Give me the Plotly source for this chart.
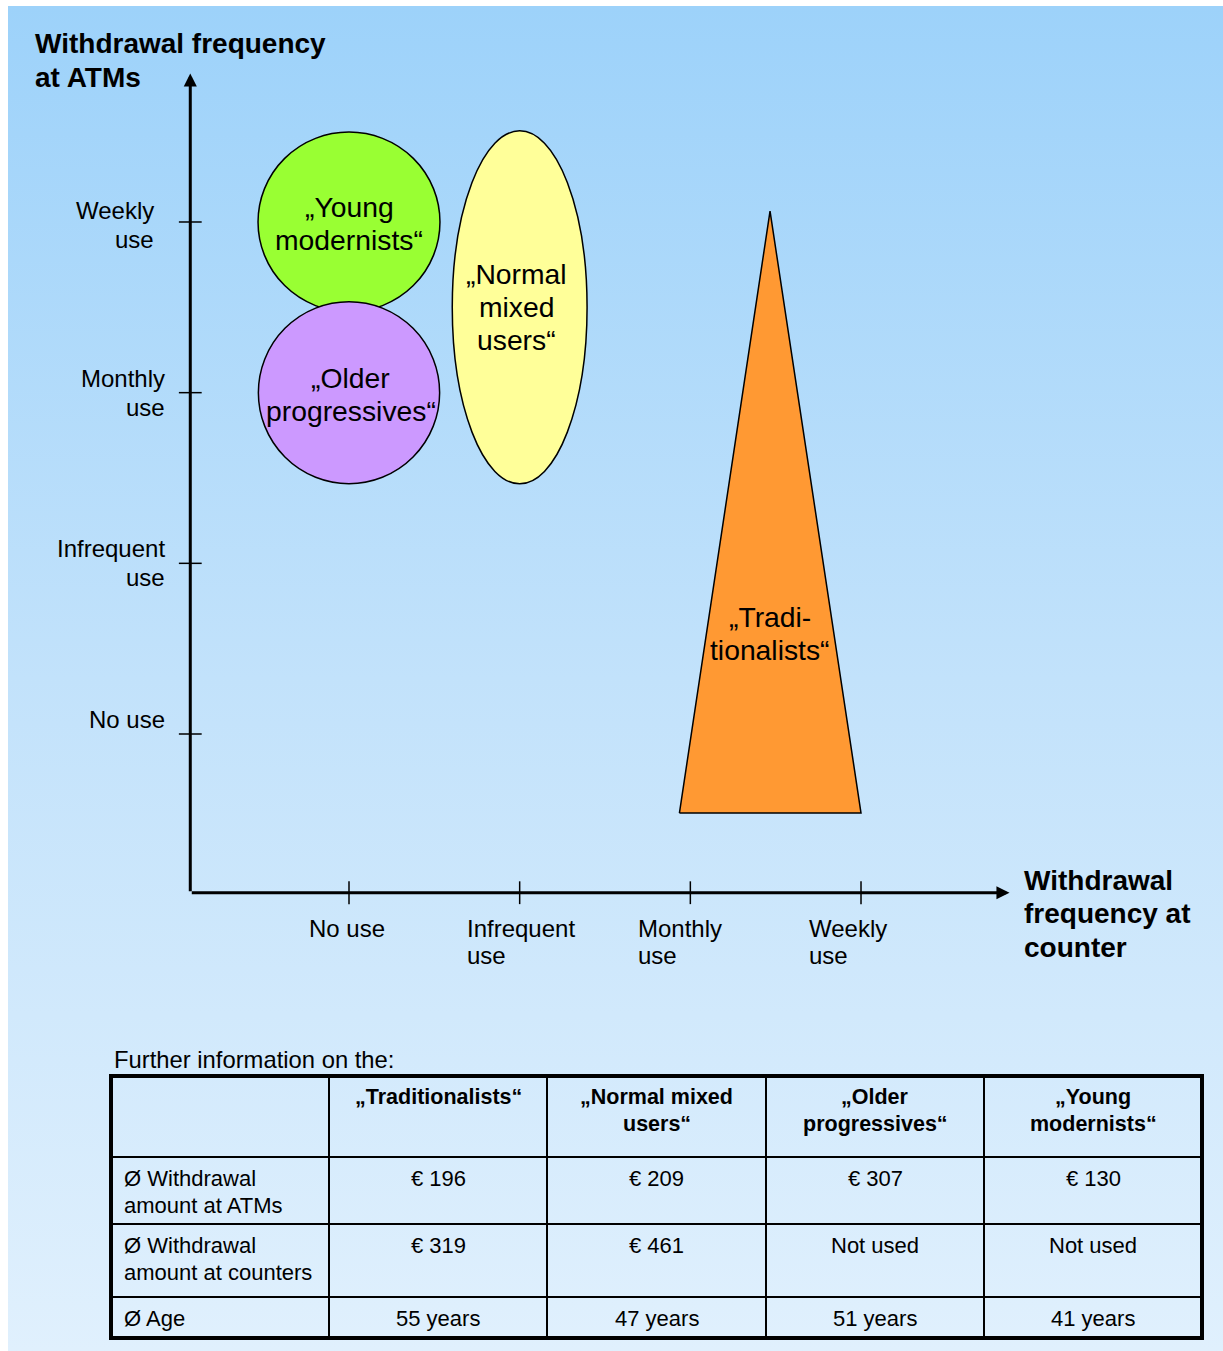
import plotly.graph_objects as go

# ---- data -------------------------------------------------------------
freq_levels = ["No use", "Infrequent use", "Monthly use", "Weekly use"]
x_tick_text = [["No use"], ["Infrequent", "use"], ["Monthly", "use"], ["Weekly", "use"]]
y_tick_text = [["No use"], ["Infrequent", "use"], ["Monthly", "use"], ["Weekly", "use"]]
freq_values = [1, 2, 3, 4]

# customer segments drawn as ellipses: centre (counter, ATM) and half-extent
seg_names = [["„Young", "modernists“"], ["„Older", "progressives“"], ["„Normal", "mixed", "users“"]]
seg_counter = [1.0, 1.0, 2.0]
seg_atm = [4.0, 3.0, 3.5]
seg_half_w = [0.533, 0.531, 0.395]
seg_half_h = [0.527, 0.533, 1.034]
seg_label_counter = [1.0, 1.01, 1.98]
seg_label_atm = [3.99, 2.99, 3.5]
seg_colors = ["#99ff33", "#cc99ff", "#ffff99"]

# traditionalists: wide spread on ATM use, counter use monthly to weekly
trad_name = ["„Tradi-", "tionalists“"]
trad_counter = [2.936, 3.467, 4.0, 2.936]
trad_atm = [0.537, 4.064, 0.537, 0.537]
trad_label = (3.467, 1.59)
trad_color = "#ff9933"

# table
table_title = "Further information on the:"
table_cols = [["„Traditionalists“"], ["„Normal mixed", "users“"], ["„Older", "progressives“"], ["„Young", "modernists“"]]
table_rows = [["Ø Withdrawal", "amount at ATMs"], ["Ø Withdrawal", "amount at counters"], ["Ø Age"]]
atm_amount = [196, 209, 307, 130]
counter_amount = [319, 461, None, None]
avg_age = [55, 47, 51, 41]

# ---- page geometry ----------------------------------------------------
W, H = 1223, 1351
UNIT = 170.67            # pixels per frequency step
X1_PX, Y1_PX = 349, 734  # pixel position of level 1 on each axis
LEFT_PAD, TOP_PAD = 8, 6


def dx(px):
    return 1 + (px - X1_PX) / UNIT


def dy(py):
    return 1 - (py - Y1_PX) / UNIT


def px_x(px):
    return px / W


def px_y(py):
    return 1 - py / H


FONT = "Liberation Sans, Arial, sans-serif"
BLACK = "#000000"

fig = go.Figure()

# gradient background panel
bx = [dx(LEFT_PAD), dx(W), dx(W), dx(LEFT_PAD), dx(LEFT_PAD)]
by = [dy(H), dy(H), dy(TOP_PAD), dy(TOP_PAD), dy(H)]
fig.add_trace(go.Scatter(
    x=bx, y=by, mode="lines", line=dict(width=0), fill="toself",
    fillgradient=dict(type="vertical", colorscale=[[0, "#e0f0fd"], [0.5, "#c2e2fb"], [1, "#9dd2fa"]]),
    hoverinfo="skip", showlegend=False,
))

# traditionalists triangle
fig.add_trace(go.Scatter(
    x=trad_counter, y=trad_atm, mode="lines", fill="toself",
    fillcolor=trad_color, line=dict(color=BLACK, width=1.5),
    hoverinfo="skip", showlegend=False,
))

# tick marks crossing both axes
origin = 0.07
axis_end = 4.87
fig.add_trace(go.Scatter(
    x=freq_values, y=[origin] * 4, mode="markers",
    marker=dict(symbol="line-ns", size=16.3, line=dict(color=BLACK, width=1.5)),
    hoverinfo="skip", showlegend=False,
))
fig.add_trace(go.Scatter(
    x=[origin] * 4, y=freq_values, mode="markers",
    marker=dict(symbol="line-ew", size=16.3, line=dict(color=BLACK, width=1.5)),
    hoverinfo="skip", showlegend=False,
))

shapes = []
for cx, cy, hw, hh, col in zip(seg_counter, seg_atm, seg_half_w, seg_half_h, seg_colors):
    shapes.append(dict(
        type="circle", xref="x", yref="y",
        x0=cx - hw, x1=cx + hw, y0=cy - hh, y1=cy + hh,
        fillcolor=col, line=dict(color=BLACK, width=1.5),
    ))

annotations = []


def add_lines(lines, x, y, xref, yref, spacing, font, xanchor="center",
              yshift=0, xshift=0, bold=False):
    """Stack text lines around (x, y) with a fixed pixel line spacing."""
    n = len(lines)
    for k, line in enumerate(lines):
        txt = f"<b>{line}</b>" if bold else line
        annotations.append(dict(
            x=x, y=y, xref=xref, yref=yref, text=txt, showarrow=False,
            xanchor=xanchor, yanchor="middle", font=font,
            yshift=yshift - (k - (n - 1) / 2) * spacing, xshift=xshift,
        ))


# axes with arrow heads
for tip, tail in [((origin, axis_end), (origin, origin)), ((axis_end, origin), (origin, origin))]:
    annotations.append(dict(
        x=tip[0], y=tip[1], ax=tail[0], ay=tail[1],
        xref="x", yref="y", axref="x", ayref="y", text="",
        showarrow=True, arrowhead=2, arrowsize=0.87, arrowwidth=3,
        arrowcolor=BLACK, standoff=0,
    ))

tick_font = dict(family=FONT, size=24, color=BLACK)
# y-axis level labels
y_label_right = [167, 167, 167, 156]
y_label_shift = [15, 0, 0, -3.5]
for v, lines, r, sh in zip(freq_values, y_tick_text, y_label_right, y_label_shift):
    add_lines(lines, px_x(r), v, "paper", "y", 29, tick_font, xanchor="right", yshift=sh)
# x-axis level labels (left-aligned blocks under each tick)
x_label_shift = [-42, -55, -54, -54]
for v, lines, sh in zip(freq_values, x_tick_text, x_label_shift):
    annotations.append(dict(
        x=v, y=px_y(928), xref="x", yref="paper", text=lines[0], showarrow=False,
        xanchor="left", yanchor="middle", xshift=sh, font=tick_font,
    ))
    if len(lines) > 1:
        annotations.append(dict(
            x=v, y=px_y(956), xref="x", yref="paper", text=lines[1], showarrow=False,
            xanchor="left", yanchor="middle", xshift=sh, font=tick_font,
        ))

title_font = dict(family=FONT, size=28, color=BLACK)
add_lines(["Withdrawal frequency", "at ATMs"], px_x(33), px_y(60), "paper", "paper",
          34, title_font, xanchor="left", bold=True)
add_lines(["Withdrawal", "frequency at", "counter"], px_x(1022), px_y(913.5), "paper", "paper",
          33.5, title_font, xanchor="left", bold=True)

seg_font = dict(family=FONT, size=28.3, color=BLACK)
for lines, lx, ly in zip(seg_names, seg_label_counter, seg_label_atm):
    add_lines(lines, lx, ly, "x", "y", 33, seg_font)
add_lines(trad_name, trad_label[0], trad_label[1], "x", "y", 33, seg_font)

# ---- table --------------------------------------------------------------
tbl_left, tbl_right = 111, 1202
tbl_top, tbl_bottom = 1076, 1338
col_edges = [tbl_left, 329, 547, 766, 984, tbl_right]
row_edges = [tbl_top, 1157, 1224, 1297, tbl_bottom]

annotations.append(dict(
    x=px_x(112), y=px_y(1059), xref="paper", yref="paper", text=table_title,
    showarrow=False, xanchor="left", yanchor="middle",
    font=dict(family=FONT, size=23.8, color=BLACK),
))

for xe in col_edges[1:-1]:
    shapes.append(dict(type="line", xref="paper", yref="paper",
                       x0=px_x(xe), x1=px_x(xe), y0=px_y(tbl_top), y1=px_y(tbl_bottom),
                       line=dict(color=BLACK, width=2)))
for ye in row_edges[1:-1]:
    shapes.append(dict(type="line", xref="paper", yref="paper",
                       x0=px_x(tbl_left), x1=px_x(tbl_right), y0=px_y(ye), y1=px_y(ye),
                       line=dict(color=BLACK, width=2)))
shapes.append(dict(type="rect", xref="paper", yref="paper",
                   x0=px_x(tbl_left), x1=px_x(tbl_right), y0=px_y(tbl_top), y1=px_y(tbl_bottom),
                   line=dict(color=BLACK, width=4)))

head_font = dict(family=FONT, size=21.5, color=BLACK)
body_font = dict(family=FONT, size=22, color=BLACK)
CELL_LINE = 27
FIRST_LINE_OFFSET = 21   # from a cell's top edge to the centre of its first text line


def cell_lines(lines, x, top, font, xanchor, bold=False):
    for k, line in enumerate(lines):
        txt = f"<b>{line}</b>" if bold else line
        annotations.append(dict(
            x=px_x(x), y=px_y(top + FIRST_LINE_OFFSET + k * CELL_LINE),
            xref="paper", yref="paper", text=txt, showarrow=False,
            xanchor=xanchor, yanchor="middle", font=font,
        ))


for i, lines in enumerate(table_cols):
    cx = (col_edges[i + 1] + col_edges[i + 2]) / 2
    cell_lines(lines, cx, tbl_top, head_font, "center", bold=True)


def money(v):
    return "Not used" if v is None else f"€ {v}"


row_cells = [
    [money(v) for v in atm_amount],
    [money(v) for v in counter_amount],
    [f"{v} years" for v in avg_age],
]
for r, (label, cells) in enumerate(zip(table_rows, row_cells)):
    top = row_edges[r + 1]
    cell_lines(label, 122, top, body_font, "left")
    for i, txt in enumerate(cells):
        cx = (col_edges[i + 1] + col_edges[i + 2]) / 2
        cell_lines([txt], cx, top, body_font, "center")

fig.update_layout(
    width=W, height=H, autosize=False,
    margin=dict(l=0, r=0, t=0, b=0, pad=0),
    paper_bgcolor="white", plot_bgcolor="white",
    xaxis=dict(range=[dx(0), dx(W)], domain=[0, 1], visible=False, fixedrange=True),
    yaxis=dict(range=[dy(H), dy(0)], domain=[0, 1], visible=False, fixedrange=True),
    shapes=shapes, annotations=annotations, showlegend=False,
)

fig.write_html("out.html", config={"displayModeBar": False, "staticPlot": True})
